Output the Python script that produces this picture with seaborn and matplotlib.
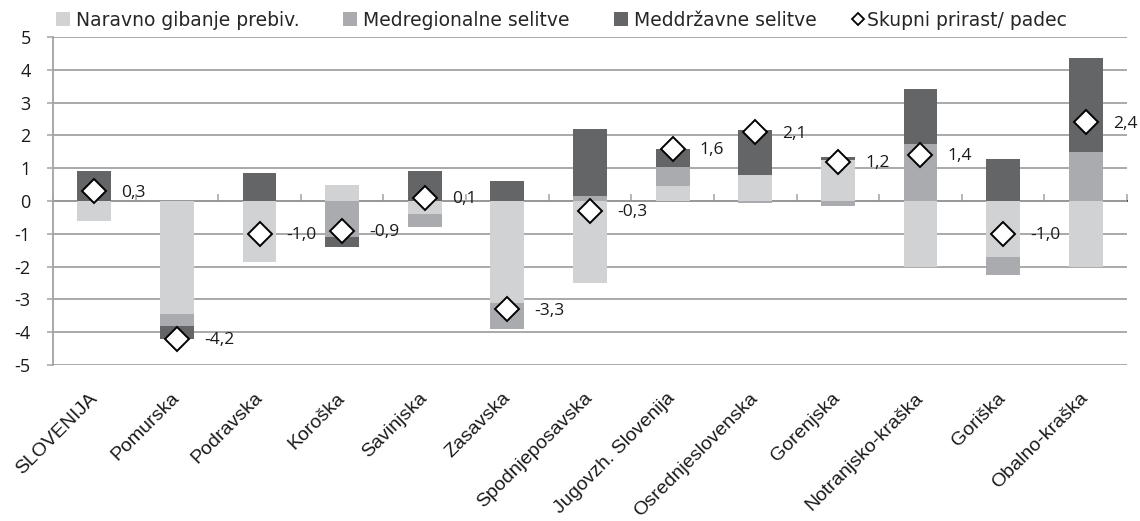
import numpy as np
import pandas as pd
import matplotlib
matplotlib.use("Agg")
import matplotlib.pyplot as plt
import seaborn as sns
from matplotlib.patches import Patch
from matplotlib.lines import Line2D

# ---- data ----
regions = ["SLOVENIJA", "Pomurska", "Podravska", "Koroška", "Savinjska", "Zasavska",
           "Spodnjeposavska", "Jugovzh. Slovenija", "Osrednjeslovenska", "Gorenjska",
           "Notranjsko-kraška", "Goriška", "Obalno-kraška"]
naravno = [-0.6, -3.45, -1.85, 0.5, -0.4, -3.1, -2.5, 0.45, 0.8, 1.25, -2.0, -1.7, -2.0]
medregionalne = [0.0, -0.35, 0.0, -1.1, -0.4, -0.8, 0.15, 0.6, -0.05, -0.15, 1.75, -0.57, 1.5]
meddrzavne = [0.9, -0.4, 0.85, -0.3, 0.9, 0.6, 2.05, 0.55, 1.35, 0.1, 1.65, 1.27, 2.85]
skupni = [0.3, -4.2, -1.0, -0.9, 0.1, -3.3, -0.3, 1.6, 2.1, 1.2, 1.4, -1.0, 2.4]
series_names = ["Naravno gibanje prebiv.", "Medregionalne selitve",
                "Meddržavne selitve", "Skupni prirast/ padec"]
y_ticks = [5, 4, 3, 2, 1, 0, -1, -2, -3, -4, -5]

# ---- style ----
c_light, c_mid, c_dark = "#d1d2d4", "#a9abae", "#646567"
grid_c = "#a3a3a3"
sns.set_theme(style="white")
plt.rcParams["font.family"] = ["Open Sans", "DejaVu Sans"]

W, H = 1140, 521
fig = plt.figure(figsize=(W / 100, H / 100), dpi=100)
ax = fig.add_axes([53 / W, 1 - 365 / H, (1127 - 53) / W, (365 - 37) / H])

# stacked (positive and negative stacked separately, as in Excel)
nat = np.array(naravno); med = np.array(medregionalne); intl = np.array(meddrzavne)
p1 = np.clip(nat, 0, None); p2 = p1 + np.clip(med, 0, None); p3 = p2 + np.clip(intl, 0, None)
n1 = np.clip(nat, None, 0); n2 = n1 + np.clip(med, None, 0); n3 = n2 + np.clip(intl, None, 0)

bar_kw = dict(order=regions, width=0.41, saturation=1, errorbar=None, linewidth=0, ax=ax)
for col, vals in [(c_dark, p3), (c_dark, n3), (c_mid, p2), (c_mid, n2), (c_light, p1), (c_light, n1)]:
    df = pd.DataFrame({"regija": regions, "v": vals})
    sns.barplot(data=df, x="regija", y="v", color=col, zorder=2, **bar_kw)

dft = pd.DataFrame({"regija": regions, "skupni": skupni})
sns.pointplot(data=dft, x="regija", y="skupni", order=regions, markers="D", linestyles="none",
              color="black", markerfacecolor="white", markeredgecolor="black",
              markersize=12, markeredgewidth=1.4, errorbar=None, ax=ax, zorder=5)

for i, v in enumerate(skupni):
    ax.annotate(f"{v:.1f}".replace(".", ","), (i, v), xytext=(19.5, -1), textcoords="offset points",
                ha="left", va="center", fontsize=12.5, color="#1a1a1a")

# axes
ax.set_ylim(-5, 5)
ax.set_xlim(-0.5, len(regions) - 0.5)
ax.set_yticks(y_ticks)
ax.set_yticklabels([str(t) for t in y_ticks], fontsize=13, color="#1a1a1a")
ax.yaxis.grid(True, color=grid_c, linewidth=1.3, zorder=0)
ax.set_axisbelow(True)
ax.tick_params(axis="y", length=4, width=1.1, color=grid_c, pad=12, left=True)
ax.set_xlabel(""); ax.set_ylabel("")
for s in ["top", "right", "bottom"]:
    ax.spines[s].set_visible(False)
ax.spines["left"].set_color(grid_c)
ax.spines["left"].set_linewidth(1.3)

ax.set_xticks(range(len(regions)))
ax.set_xticklabels(regions, rotation=45, ha="right", va="center", rotation_mode="anchor",
                   fontsize=14, family=["Liberation Sans", "DejaVu Sans"], color="#1a1a1a")
ax.tick_params(axis="x", length=0, pad=22)

# zero axis with tick marks between categories
sec = ax.secondary_xaxis(0.5)
sec.set_xticks(np.arange(-0.5, len(regions), 1.0))
sec.set_xticklabels([])
sec.tick_params(axis="x", length=5, width=1.1, color=grid_c, direction="out")
sec.spines["bottom"].set_color(grid_c)
sec.spines["bottom"].set_linewidth(1.3)

# legend: one entry per legend so each sits where the reference puts it
handles = [Patch(facecolor=c_light, edgecolor="none"),
           Patch(facecolor=c_mid, edgecolor="none"),
           Patch(facecolor=c_dark, edgecolor="none"),
           Line2D([], [], linestyle="none", marker="D", markersize=6.6, markerfacecolor="white",
                  markeredgecolor="black", markeredgewidth=1.3)]
leg_x = [56, 343, 614, 851]
leg_pad = [0.32, 0.32, 0.32, 0.12]
for h, name, x, tp in zip(handles, series_names, leg_x, leg_pad):
    fig.legend([h], [name], loc="center left", bbox_to_anchor=(x / W, 1 - 20 / H),
               frameon=False, prop={"family": ["DejaVu Sans"], "size": 13.5},
               handlelength=0.75, handleheight=0.75, handletextpad=tp,
               borderaxespad=0, borderpad=0)

fig.savefig("out.png", dpi=100)
